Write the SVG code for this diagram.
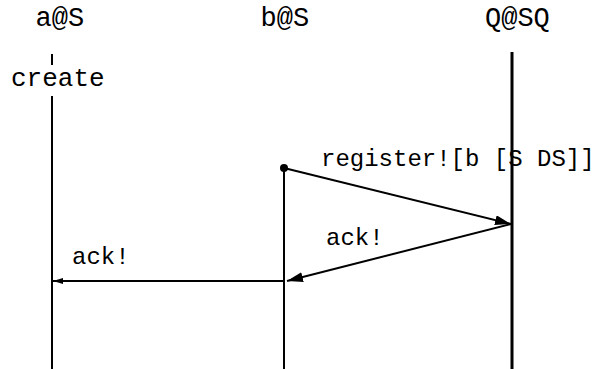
<svg xmlns="http://www.w3.org/2000/svg" width="609" height="369" viewBox="0 0 609 369">
<style>
text{font-family:"Liberation Mono","Courier New",monospace;font-size:24px;fill:#000}
.big{font-size:27px}
.cr{font-size:26px}
.life{stroke:#000;stroke-width:2;fill:none}
.msg{stroke:#000;stroke-width:2;fill:none}
</style>
<defs>
<marker id="big" markerUnits="userSpaceOnUse" viewBox="0 0 16 10" markerWidth="16" markerHeight="10" refX="16" refY="5" orient="auto"><path d="M0,0 L16,5 L0,10 z" fill="#000"/></marker>
<marker id="small" markerUnits="userSpaceOnUse" viewBox="0 0 10 6" markerWidth="10" markerHeight="6" refX="10" refY="3" orient="auto"><path d="M0,0 L10,3 L0,6 z" fill="#000"/></marker>
</defs>
<rect width="609" height="369" fill="#fff"/>
<g id="node-a">
<text class="big" x="35.5" y="26">a@S</text>
<line class="life" x1="52" y1="54" x2="52" y2="65"/>
<text class="cr" x="11" y="86">create</text>
<line class="life" x1="52" y1="96" x2="52" y2="369"/>
</g>
<g id="node-b">
<text class="big" x="260.5" y="26">b@S</text>
<circle cx="284" cy="168" r="4" fill="#000"/>
<line class="life" x1="284" y1="168" x2="284" y2="369"/>
</g>
<g id="node-q">
<text class="big" x="485" y="26">Q@SQ</text>
<line x1="512" y1="52" x2="512" y2="369" stroke="#000" stroke-width="3"/>
</g>
<g id="connectors">
<line class="msg" x1="284" y1="168" x2="511" y2="224" marker-end="url(#big)"/>
<text x="321" y="166">register![b [S DS]]</text>
<line class="msg" x1="511" y1="224" x2="287" y2="281" marker-end="url(#big)"/>
<text x="326" y="245">ack!</text>
<line class="msg" x1="284" y1="281" x2="53" y2="281" marker-end="url(#small)"/>
<text x="72" y="264">ack!</text>
</g>
</svg>
